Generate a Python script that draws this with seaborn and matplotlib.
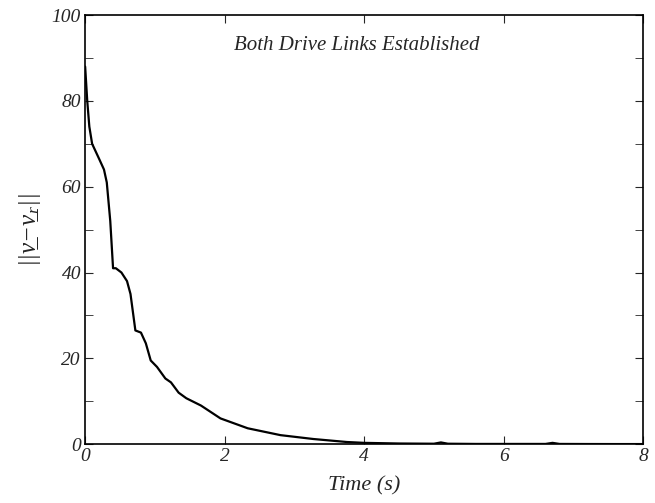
"""Norm of velocity error vs time, both drive links established."""

import matplotlib

matplotlib.use("Agg")
import matplotlib.pyplot as plt
import pandas as pd
import seaborn as sns
from matplotlib.ticker import MultipleLocator

# values
ZAMAN = [0.0, 0.03, 0.06, 0.1, 0.2, 0.27, 0.31, 0.36, 0.4, 0.44, 0.52, 0.6,
         0.65, 0.72, 0.8, 0.87, 0.94, 1.03, 1.15, 1.23, 1.34, 1.45, 1.66,
         1.94, 2.33, 2.8, 3.27, 3.75, 4.0, 4.5, 5.0, 5.1, 5.2, 5.6, 6.0,
         6.6, 6.7, 6.8, 7.2, 7.6, 8.0]
NORM = [88.0, 80.0, 74.0, 70.0, 66.5, 64.0, 61.0, 52.0, 41.0, 41.0, 40.0, 38.0,
        35.0, 26.5, 26.0, 23.5, 19.5, 18.0, 15.3, 14.4, 12.0, 10.7, 9.0,
        6.0, 3.7, 2.1, 1.2, 0.5, 0.3, 0.15, 0.1, 0.4, 0.1, 0.05, 0.05,
        0.05, 0.3, 0.05, 0.03, 0.02, 0.02]

BASLIK = "Both Drive Links Established"
X_ETIKET = "Time (s)"
Y_ETIKET = "||v\u0332\u2212v\u0332$_r$||"


def main() -> None:
    df = pd.DataFrame({"t": ZAMAN, "norm": NORM})

    sns.set_style("ticks")
    plt.rcParams["font.family"] = ["Liberation Serif", "DejaVu Serif"]
    plt.rcParams["mathtext.fontset"] = "custom"
    plt.rcParams["mathtext.it"] = "Liberation Serif:italic"
    plt.rcParams["mathtext.rm"] = "Liberation Serif"

    fig = plt.figure(figsize=(6.55, 5.03), dpi=100)
    ax = fig.add_axes([0.13, 0.117, 0.852, 0.853])
    sns.lineplot(data=df, x="t", y="norm", ax=ax, color="black", linewidth=1.6)

    ax.set_xlim(0, 8)
    ax.set_ylim(0, 100)
    ax.xaxis.set_major_locator(MultipleLocator(2))
    ax.yaxis.set_major_locator(MultipleLocator(20))
    ax.yaxis.set_minor_locator(MultipleLocator(10))
    ax.tick_params(which="both", direction="in", top=True, right=True,
                   labelsize=14, pad=3, length=6)
    for lbl in ax.get_xticklabels() + ax.get_yticklabels():
        lbl.set_fontstyle("italic")
    for sp in ax.spines.values():
        sp.set_linewidth(1.2)
        sp.set_color("black")

    ax.set_xlabel(X_ETIKET, fontsize=16, fontstyle="italic", labelpad=8)
    ax.set_ylabel(Y_ETIKET, fontsize=18, fontstyle="italic", labelpad=6)
    ax.text(3.9, 93, BASLIK, fontsize=15, fontstyle="italic", ha="center",
            va="center")

    fig.savefig("out.png", dpi=100)
    plt.close(fig)


if __name__ == "__main__":
    main()
